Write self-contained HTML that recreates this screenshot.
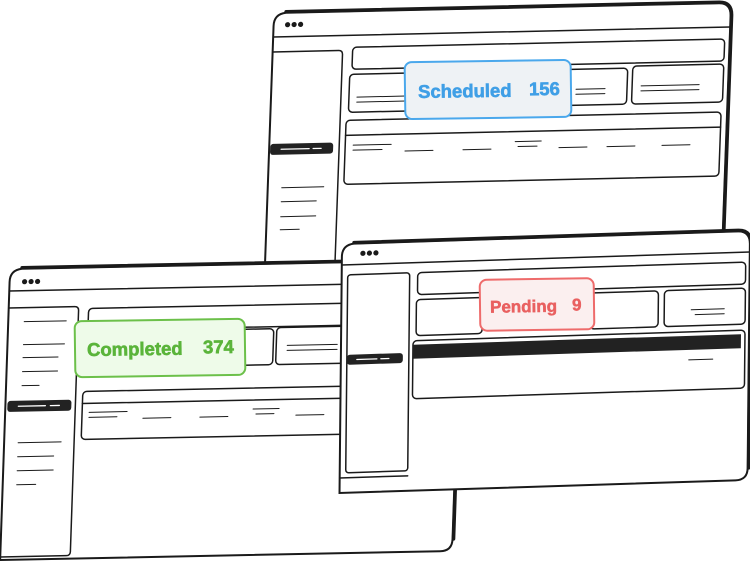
<!DOCTYPE html>
<html><head><meta charset="utf-8"><style>
html,body{margin:0;padding:0;background:#fff;width:750px;height:562px;overflow:hidden}
svg{display:block}
text{font-family:"Liberation Sans",sans-serif;font-weight:700}
</style></head><body>
<svg width="750" height="562" viewBox="0 0 750 562" xmlns="http://www.w3.org/2000/svg" fill="none" stroke="#1a1a1a" stroke-linecap="round">
<!-- TOP WINDOW -->
<g transform="matrix(1,-0.022,-0.036,1,274,14)">
  <path d="M0,258 L0,12 Q0,0 12,-1 L445,-1 Q457,-1 457,12 L457,258" fill="#fff" stroke-width="2"/>
  <path d="M12,-2 L445,-2 Q458,-2 458,12 L458,240" stroke-width="3.5"/>
  <line x1="0" y1="23" x2="457" y2="23" stroke-width="1.5"/>
  <g fill="#1a1a1a" stroke="none"><circle cx="14" cy="11" r="2.6"/><circle cx="20.5" cy="11" r="2.6"/><circle cx="27" cy="11" r="2.6"/></g>
  <path d="M0,38 L66,38 Q70,38 70,42 L70,260" stroke-width="1.5"/>
  <rect x="80" y="35" width="372" height="22" rx="4" stroke-width="1.5"/>
  <rect x="78" y="62" width="64" height="38" rx="4" stroke-width="1.5"/>
  <rect x="290" y="62" width="66" height="36" rx="4" stroke-width="1.5"/>
  <rect x="361" y="60" width="91" height="38" rx="4" stroke-width="1.5"/>
  <line x1="86" y1="85" x2="135" y2="85"/><line x1="86" y1="90" x2="135" y2="90"/>
  <line x1="305" y1="82" x2="334" y2="82"/><line x1="305" y1="87" x2="334" y2="87"/>
  <line x1="370" y1="80" x2="428" y2="80"/><line x1="370" y1="85" x2="428" y2="85"/>
  <rect x="76" y="108" width="375" height="64" rx="4" stroke-width="1.5"/>
  <line x1="76" y1="123" x2="451" y2="123" stroke-width="1.5"/>
  <line x1="84" y1="133" x2="122" y2="133"/><line x1="84" y1="138" x2="113" y2="138"/>
  <line x1="136" y1="140" x2="164" y2="140"/><line x1="194" y1="140" x2="222" y2="140"/>
  <line x1="246" y1="133" x2="272" y2="133"/><line x1="249" y1="138" x2="268" y2="138"/>
  <line x1="290" y1="140" x2="318" y2="140"/><line x1="338" y1="140" x2="366" y2="140"/>
  <line x1="393" y1="140" x2="421" y2="140"/>
  <rect x="1" y="130" width="63" height="11" rx="3" fill="#222" stroke="none"/>
  <line x1="12" y1="135.5" x2="40" y2="135.5" stroke="#fff" stroke-width="1.3"/><line x1="44" y1="135.5" x2="52" y2="135.5" stroke="#fff" stroke-width="1.3"/>
  <line x1="14" y1="174" x2="56" y2="174"/><line x1="14" y1="188" x2="49" y2="188"/>
  <line x1="14" y1="203" x2="49" y2="203"/><line x1="14" y1="216" x2="33" y2="216"/>
</g>
<!-- SCHEDULED BADGE -->
<g transform="rotate(-0.8,488,90)">
  <rect x="405" y="61" width="166" height="57" rx="7" fill="#eef2f5" stroke="#4aa8ec" stroke-width="2"/>
  <text x="418" y="97" font-size="18.5" fill="#3f9fe6" stroke="#3f9fe6" stroke-width="0.6">Scheduled</text>
  <text x="529" y="96" font-size="18.5" fill="#3f9fe6" stroke="#3f9fe6" stroke-width="0.6">156</text>
</g>
<!-- COMPLETED WINDOW -->
<g transform="matrix(1,-0.02,-0.034,1,10,270)">
  <path d="M0,290 L0,12 Q0,0 12,-1 L440,-1 Q452,-1 452,12 L452,278 Q452,290 440,290 Z" fill="#fff" stroke-width="2"/>
  <path d="M12,-2 L440,-2 Q453,-2 453,12 L453,278" stroke-width="3.5"/>
  <line x1="0" y1="21" x2="452" y2="21" stroke-width="1.5"/>
  <g fill="#1a1a1a" stroke="none"><circle cx="15" cy="12" r="2.6"/><circle cx="21.5" cy="12" r="2.6"/><circle cx="28" cy="12" r="2.6"/></g>
  <path d="M0,38 L66,38 Q70,38 70,42 L70,283 Q70,287 66,287 L0,287" stroke-width="1.5"/>
  <rect x="80" y="40" width="360" height="22" rx="4" stroke-width="1.5"/>
  <rect x="234" y="64" width="32" height="36" rx="4" stroke-width="1.5"/>
  <rect x="269" y="63" width="170" height="37" rx="4" stroke-width="1.5"/>
  <line x1="280" y1="81" x2="330" y2="81"/><line x1="280" y1="86" x2="330" y2="86"/>
  <rect x="77" y="123" width="360" height="48" rx="4" stroke-width="1.5"/>
  <line x1="77" y1="135" x2="437" y2="135" stroke-width="1.5"/>
  <line x1="84" y1="144" x2="122" y2="144"/><line x1="84" y1="149" x2="112" y2="149"/>
  <line x1="138" y1="151" x2="166" y2="151"/><line x1="195" y1="151" x2="223" y2="151"/>
  <line x1="248" y1="144" x2="274" y2="144"/><line x1="251" y1="149" x2="269" y2="149"/>
  <line x1="291" y1="151" x2="319" y2="151"/>
  <rect x="2" y="131" width="64" height="11" rx="3" fill="#222" stroke="none"/>
  <line x1="13" y1="136.5" x2="40" y2="136.5" stroke="#fff" stroke-width="1.3"/><line x1="45" y1="136.5" x2="54" y2="136.5" stroke="#fff" stroke-width="1.3"/>
  <line x1="16" y1="52" x2="58" y2="52"/><line x1="16" y1="75" x2="57" y2="75"/>
  <line x1="16" y1="88" x2="51" y2="88"/><line x1="16" y1="102" x2="51" y2="102"/>
  <line x1="16" y1="116" x2="33" y2="116"/>
  <line x1="14" y1="173" x2="57" y2="173"/><line x1="14" y1="187" x2="50" y2="187"/>
  <line x1="14" y1="201" x2="50" y2="201"/><line x1="14" y1="215" x2="33" y2="215"/>
</g>
<!-- COMPLETED BADGE -->
<g transform="rotate(-0.8,160,348)">
  <rect x="75" y="320" width="170" height="56" rx="7" fill="#eefbe9" stroke="#6cc04a" stroke-width="2"/>
  <text x="87" y="355" font-size="18.5" fill="#5ab43a" stroke="#5ab43a" stroke-width="0.6">Completed</text>
  <text x="203" y="354" font-size="18.5" fill="#5ab43a" stroke="#5ab43a" stroke-width="0.6">374</text>
</g>
<!-- PENDING WINDOW -->
<g transform="matrix(1,-0.032,-0.01,1,342,245)">
  <path d="M0,248 L0,12 Q0,0 12,-1 L396,-1 Q408,-1 408,12 L408,236 Q408,248 396,248 Z" fill="#fff" stroke-width="2"/>
  <path d="M12,-2 L396,-2 Q409,-2 409,12 L409,236" stroke-width="3.5"/>
  <line x1="0" y1="20" x2="408" y2="20" stroke-width="1.5"/>
  <g fill="#1a1a1a" stroke="none"><circle cx="21" cy="9" r="2.6"/><circle cx="27.5" cy="9" r="2.6"/><circle cx="34" cy="9" r="2.6"/></g>
  <rect x="6" y="30" width="62" height="198" rx="3" stroke-width="1.5"/>
  <line x1="0" y1="233" x2="68" y2="233" stroke-width="1.5"/>
  <rect x="76" y="30" width="328" height="22" rx="4" stroke-width="1.5"/>
  <rect x="75" y="57" width="66" height="36" rx="4" stroke-width="1.5"/>
  <rect x="249" y="56" width="68" height="36" rx="4" stroke-width="1.5"/>
  <rect x="323" y="56" width="81" height="36" rx="4" stroke-width="1.5"/>
  <line x1="350" y1="76" x2="383" y2="76"/><line x1="354" y1="81" x2="383" y2="81"/>
  <rect x="72" y="98" width="332" height="58" rx="4" stroke-width="1.5"/>
  <rect x="72" y="102" width="328" height="14" fill="#222" stroke="none"/>
  <line x1="348" y1="126" x2="372" y2="126"/>
  <rect x="6" y="110" width="56" height="10" rx="3" fill="#222" stroke="none"/>
  <line x1="16" y1="115" x2="36" y2="115" stroke="#fff" stroke-width="1.3"/><line x1="40" y1="115" x2="48" y2="115" stroke="#fff" stroke-width="1.3"/>
</g>
<!-- PENDING BADGE -->
<g transform="rotate(-0.8,537,305)">
  <rect x="480" y="279" width="114" height="51" rx="7" fill="#fbefef" stroke="#ee6b6b" stroke-width="2"/>
  <text x="490" y="312" font-size="17" fill="#e96060" stroke="#e96060" stroke-width="0.5">Pending</text>
  <text x="572" y="311" font-size="17" fill="#e96060" stroke="#e96060" stroke-width="0.5">9</text>
</g>
</svg>
</body></html>
